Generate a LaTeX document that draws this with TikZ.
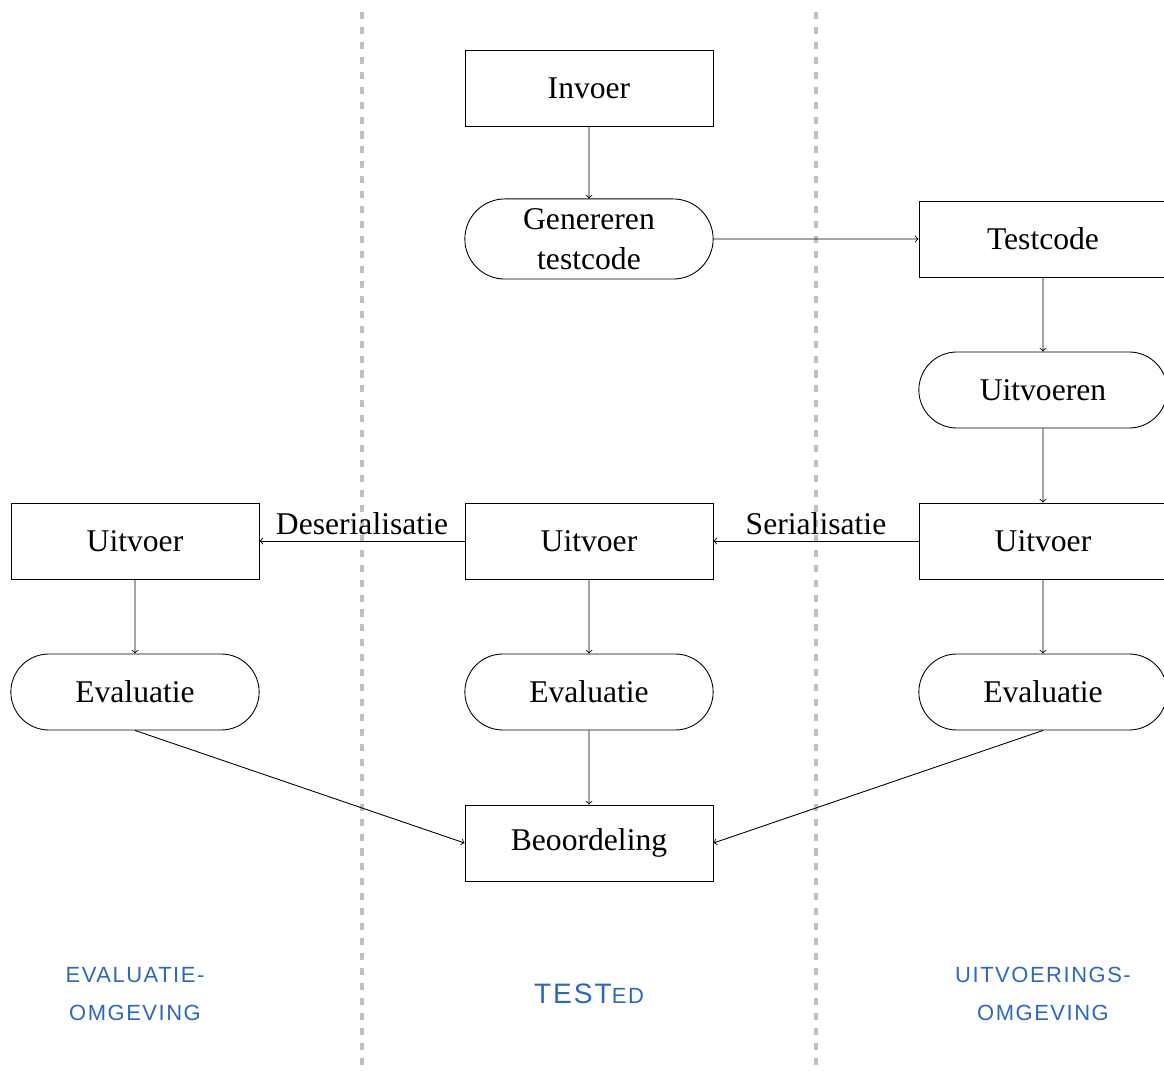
\documentclass[tikz,border=0pt]{standalone}
\usepackage{fontspec}
\setmainfont{Liberation Serif}
\setsansfont{Liberation Sans}
\newfontfamily\omgfont{Liberation Sans}[LetterSpace=7]
\usepackage{tikz}
\usetikzlibrary{shapes.misc}
\definecolor{testedblue}{HTML}{2A67C9}
\tikzset{
  blok/.style={ draw, rectangle, minimum width=4.96cm, minimum height=1.52cm, font=\fontsize{18}{22.5}\selectfont }
}
\tikzset{
  stap/.style={ draw, rounded rectangle, minimum width=5.2cm, minimum height=1.52cm, inner ysep=5.5pt, align=center, font=\fontsize{18}{22.5}\selectfont }
}
\tikzset{
  overgang/.style={ font=\fontsize{18}{22.5}\selectfont }
}
\tikzset{
  omgeving/.style={ text=testedblue, align=center, font=\omgfont\fontsize{12.5}{22}\selectfont }
}
\tikzset{
  grens/.style={ gray!50, line width=2pt, dash pattern=on 4pt off 4.5pt }
}

\begin{document}
\begin{tikzpicture}[x=9.08cm, y=3.02cm, line width=0.5pt]
      \useasboundingbox (-11.78cm,-19.66cm) rectangle (11.5cm,1.76cm);
      % grenzen tussen de omgevingen
      \draw[grens] (-4.54cm,1.52cm) -- (-4.54cm,-19.66cm);
      \draw[grens] (4.54cm,1.52cm) -- (4.54cm,-19.66cm);

      \node[blok] (invoer) at (0, 0) {Invoer};
      \node[stap] (genereren) at (0, -1) {Genereren\\testcode};
      \node[blok] (testcode) at (1, -1) {Testcode};
      \node[stap] (uitvoeren) at (1, -2) {Uitvoeren};
      \draw[->] (invoer) -- (genereren);
      \draw[->] (genereren) -- (testcode);
      \draw[->] (testcode) -- (uitvoeren);

      \node[blok] (uitL) at (-1, -3) {Uitvoer};
      \node[blok] (uitM) at (0, -3) {Uitvoer};
      \node[blok] (uitR) at (1, -3) {Uitvoer};
      \draw[->] (uitvoeren) -- (uitR);
      \draw[->] (uitR) -- node[midway, above, overgang] {Serialisatie} (uitM);
      \draw[->] (uitM) -- node[midway, above, overgang] {Deserialisatie} (uitL);

      \node[stap] (evalL) at (-1, -4) {Evaluatie};
      \node[stap] (evalM) at (0, -4) {Evaluatie};
      \node[stap] (evalR) at (1, -4) {Evaluatie};
      \draw[->] (uitL) -- (evalL);
      \draw[->] (uitM) -- (evalM);
      \draw[->] (uitR) -- (evalR);

      \node[blok] (beoordeling) at (0, -5) {Beoordeling};
      \draw[->] (evalL.south) -- (beoordeling.west);
      \draw[->] (evalM) -- (beoordeling);
      \draw[->] (evalR.south) -- (beoordeling.east);

      \node[omgeving] (evalomg) at (-1, -6) {EVALUATIE-\\OMGEVING};
      \node[omgeving] (tested) at (0, -6) {\fontsize{16}{22}\selectfont TEST\fontsize{12.5}{22}\selectfont ED};
      \node[omgeving] (uitomg) at (1, -6) {UITVOERINGS-\\OMGEVING};
    \end{tikzpicture}
\end{document}
